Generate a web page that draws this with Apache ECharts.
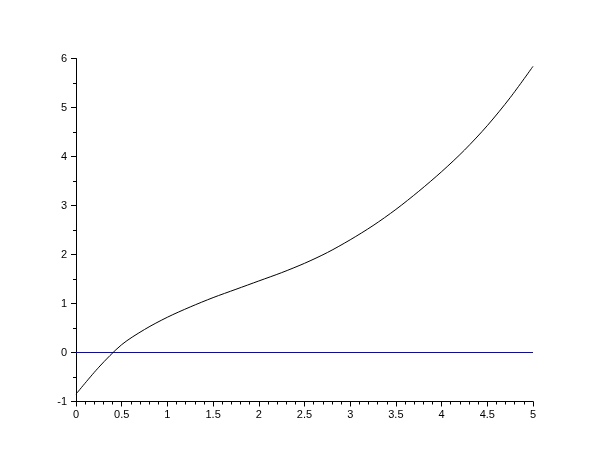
<!DOCTYPE html>
<html>
<head>
<meta charset="utf-8">
<script src="https://cdn.jsdelivr.net/npm/echarts@6/dist/echarts.min.js"></script>
<style>html,body{margin:0;padding:0;background:#fff}#c{width:610px;height:460px}</style>
</head>
<body>
<div id="c"></div>
<script>
const xValues = [0, 0.25, 0.5, 0.75, 1, 1.25, 1.5, 1.75, 2, 2.25, 2.5, 2.75, 3, 3.25, 3.5, 3.75, 4, 4.25, 4.5, 4.75, 5];
const yValues = [-0.85, -0.3, 0.16, 0.47, 0.72, 0.93, 1.12, 1.29, 1.46, 1.63, 1.82, 2.04, 2.3, 2.59, 2.92, 3.29, 3.69, 4.13, 4.63, 5.2, 5.84];
const zeroX = [0, 5];
const zeroY = [0, 0];
const xTicks = ['0', '0.5', '1', '1.5', '2', '2.5', '3', '3.5', '4', '4.5', '5'];
const yTicks = ['-1', '0', '1', '2', '3', '4', '5', '6'];

const chart = echarts.init(document.getElementById('c'), null, {renderer: 'canvas'});
const font = {fontFamily: 'Liberation Sans, Arial, sans-serif', fontSize: 11, color: '#000'};
chart.setOption({
  animation: false,
  backgroundColor: '#fff',
  grid: {left: 76, right: 77, top: 58.5, bottom: 58.5, containLabel: false},
  xAxis: {
    type: 'value', min: 0, max: 5, interval: 0.5,
    axisLine: {show: true, onZero: false, lineStyle: {color: '#000', width: 1}},
    axisTick: {show: true, inside: false, length: 5, lineStyle: {color: '#000'}},
    minorTick: {show: true, splitNumber: 5, length: 3, lineStyle: {color: '#000'}},
    splitLine: {show: false},
    axisLabel: Object.assign({margin: 8, formatter: v => xTicks[Math.round(v * 2)] || String(v)}, font)
  },
  yAxis: {
    type: 'value', min: -1, max: 6, interval: 1,
    axisLine: {show: true, onZero: false, lineStyle: {color: '#000', width: 1}},
    axisTick: {show: true, inside: false, length: 5, lineStyle: {color: '#000'}},
    minorTick: {show: true, splitNumber: 2, length: 3, lineStyle: {color: '#000'}},
    splitLine: {show: false},
    axisLabel: Object.assign({margin: 9, formatter: v => yTicks[Math.round(v + 1)] || String(v)}, font)
  },
  series: [
    {
      type: 'line', data: zeroX.map((x, i) => [x, zeroY[i]]),
      symbol: 'none', lineStyle: {color: '#0000ff', width: 1}
    },
    {
      type: 'line', data: xValues.map((x, i) => [x, yValues[i]]),
      symbol: 'none', smooth: 0.3, lineStyle: {color: '#000', width: 1}
    }
  ]
});
</script>
</body>
</html>
